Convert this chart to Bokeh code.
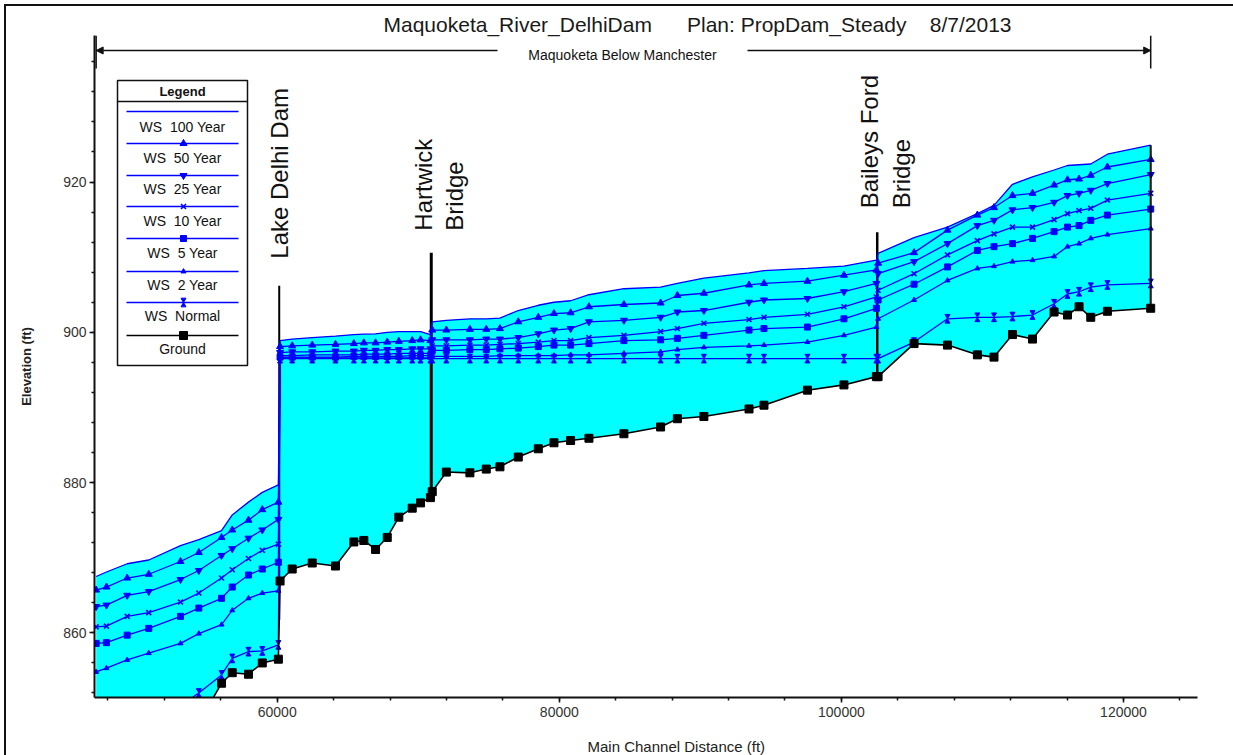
import math
import numpy as np
from bokeh.plotting import figure
from bokeh.models import (Range1d, SingleIntervalTicker, BasicTickFormatter, Title,
                          Arrow, NormalHead)
from bokeh.core.properties import value
from bokeh.embed import file_html
from bokeh.resources import INLINE

# ---------------- data ----------------
title_river = "Maquoketa_River_DelhiDam"
title_plan = "Plan: PropDam_Steady"
title_date = "8/7/2013"
reach_name = "Maquoketa Below Manchester"
x_label = "Main Channel Distance (ft)"
y_label = "Elevation (ft)"

station = [47160, 47890, 49360, 50890, 53140, 54440, 56050, 56810, 57960, 58940, 60080,
           60200, 61060, 62480, 64130, 65430, 66140, 66970, 67800, 68620, 69570, 70160, 70860,
           70990, 71990, 73660, 74820, 75790, 77090, 78510, 79620, 80800, 82100, 84580, 87180,
           88370, 90250, 93450, 94510, 97590, 100180, 102480,
           102600, 105150, 107520, 109640, 110820, 112130, 113550, 115080, 116030, 116850,
           117680, 118860, 121930]

ground = [843.5, 843.8, 844.5, 845.5, 846.5, 848.0, 853.3, 854.7, 854.5, 856.0, 856.5,
          866.9, 868.5, 869.3, 868.9, 872.1, 872.3, 871.1, 872.7, 875.4, 876.6, 877.3, 878.0,
          878.8, 881.4, 881.3, 881.8, 882.1, 883.4, 884.5, 885.3, 885.6, 885.9, 886.5, 887.4,
          888.5, 888.8, 889.8, 890.3, 892.3, 893.0, 894.1,
          894.1, 898.5, 898.3, 897.0, 896.7, 899.7, 899.1, 902.7, 902.3, 903.4, 902.0, 902.8, 903.2]

ws_100 = [867.5, 868.1, 869.2, 869.7, 871.6, 872.4, 873.6, 875.7, 877.4, 878.7, 879.7,
          898.9, 899.1, 899.3, 899.5, 899.7, 899.75, 899.8, 900.0, 900.1, 900.1, 900.1, 899.7,
          901.4, 901.6, 901.8, 901.8, 901.9, 902.9, 903.6, 904.0, 904.2, 905.0, 905.8, 906.0,
          906.5, 907.2, 907.9, 908.2, 908.5, 908.8, 909.6,
          910.5, 912.6, 914.0, 915.8, 916.9, 919.7, 920.7, 921.6, 922.2, 922.3, 922.4, 923.7, 924.9]

ws_50 = [865.7, 866.1, 867.3, 867.8, 869.5, 870.7, 872.7, 873.7, 875.0, 876.4, 877.4,
         898.1, 898.2, 898.3, 898.4, 898.5, 898.6, 898.6, 898.7, 898.8, 898.9, 899.0, 898.9,
         900.3, 900.3, 900.4, 900.4, 900.5, 901.4, 902.0, 902.5, 902.6, 903.4, 903.7, 903.9,
         904.9, 905.2, 906.3, 906.5, 906.8, 907.6, 908.3,
         909.2, 910.6, 913.6, 915.6, 916.6, 918.2, 918.5, 919.6, 920.3, 920.4, 920.9, 922.0, 923.0]

ws_25 = [863.5, 863.7, 865.0, 865.5, 867.1, 868.3, 870.3, 871.2, 872.6, 873.7, 875.1,
         897.3, 897.4, 897.4, 897.5, 897.5, 897.6, 897.6, 897.7, 897.7, 897.8, 897.8, 897.8,
         899.0, 899.0, 899.0, 899.1, 899.1, 899.3, 899.8, 900.3, 900.5, 901.4, 901.6, 902.0,
         902.7, 902.9, 904.0, 904.3, 904.5, 905.4, 906.5,
         907.8, 909.4, 911.8, 914.2, 914.9, 916.3, 916.6, 917.3, 918.2, 918.5, 918.9, 919.8, 921.0]

ws_10 = [860.8, 860.9, 862.2, 862.7, 864.1, 865.3, 867.3, 868.4, 869.9, 871.0, 871.8,
         896.9, 896.9, 897.0, 897.0, 897.0, 897.1, 897.1, 897.1, 897.2, 897.2, 897.2, 897.2,
         898.2, 898.2, 898.3, 898.3, 898.4, 898.5, 898.7, 898.9, 898.9, 899.3, 899.6, 900.1,
         900.5, 901.2, 901.7, 902.0, 902.4, 903.4, 904.7,
         905.6, 907.8, 910.3, 912.2, 913.1, 914.0, 914.0, 915.0, 915.8, 916.2, 916.5, 917.6, 918.5]

ws_5 = [858.6, 858.7, 859.7, 860.6, 862.2, 863.3, 864.6, 866.1, 867.7, 868.5, 869.4,
        896.7, 896.7, 896.7, 896.7, 896.8, 896.8, 896.8, 896.8, 896.8, 896.9, 896.9, 896.9,
        897.6, 897.6, 897.7, 897.7, 897.8, 897.9, 898.1, 898.3, 898.3, 898.5, 898.9, 899.0,
        899.2, 899.6, 900.3, 900.5, 900.7, 901.8, 903.2,
        904.3, 906.4, 908.7, 910.9, 911.4, 911.8, 912.5, 913.4, 914.0, 914.2, 914.9, 915.6, 916.4]

ws_2 = [854.8, 855.3, 856.4, 857.3, 858.6, 859.9, 861.1, 863.0, 864.6, 865.3, 865.6,
        896.6, 896.6, 896.6, 896.6, 896.6, 896.6, 896.6, 896.6, 896.6, 896.6, 896.6, 896.6,
        896.8, 896.8, 896.8, 896.8, 896.9, 896.9, 896.9, 896.9, 897.0, 897.0, 897.2, 897.4,
        897.7, 898.0, 898.2, 898.3, 898.7, 899.6, 900.7,
        901.8, 904.3, 906.9, 908.5, 908.8, 909.4, 909.6, 910.1, 911.4, 911.8, 912.5, 913.0, 913.8]

ws_normal = [848.6, 848.7, 849.0, 849.5, 850.3, 852.0, 854.4, 856.6, 857.5, 857.6, 858.4,
             896.5, 896.5, 896.5, 896.5, 896.5, 896.5, 896.5, 896.5, 896.5, 896.5, 896.5, 896.5,
             896.5, 896.5, 896.5, 896.5, 896.5, 896.5, 896.5, 896.5, 896.5, 896.5, 896.5, 896.5,
             896.5, 896.5, 896.5, 896.5, 896.5, 896.5, 896.5,
             896.5, 898.7, 901.8, 902.0, 902.0, 902.1, 902.3, 903.8, 905.1, 905.4, 906.0, 906.3, 906.5]

legend_labels = ["WS  100 Year", "WS  50 Year", "WS  25 Year", "WS  10 Year",
                 "WS  5 Year", "WS  2 Year", "WS  Normal", "Ground"]

structure_lines = [["Lake Delhi Dam"], ["Hartwick", "Bridge"], ["Baileys Ford", "Bridge"]]
structure_station = [60140, 70920, 102540]
structure_top = [906.2, 910.6, 913.3]

# ---------------- layout / styles ----------------
W, H = 1233, 755
FL, FR, FT, FB = 94, 1197, 35, 697
X0, X1 = 47043, 125248
Y0, Y1 = 851.4, 939.5
FPX = (Y1 - Y0) / (FB - FT)      # ft per screen px (vertical)

def dx(px):
    return X0 + (px - FL) * (X1 - X0) / (FR - FL)

def dy(py):
    return Y1 - (py - FT) * FPX

FONT_NAME = "Liberation Sans"
FONT = value(FONT_NAME)
BLUE = "#0000FF"
CYAN = "#00FFFF"
NB = "\u00a0"

p = figure(width=W, height=H, x_range=Range1d(X0, X1), y_range=Range1d(Y0, Y1),
           output_backend="svg", toolbar_location=None,
           min_border_left=FL, min_border_right=W - FR,
           min_border_top=FT, min_border_bottom=H - FB)
p.outline_line_color = None
p.grid.visible = False
p.background_fill_color = "white"
p.border_fill_color = None
# thin frame along the top and left edges of the picture
p.styles = {"background-color": "white",
            "box-shadow": "inset 4px 4px 0 0 white, inset 6px 6px 0 0 #111111"}

p.xaxis.ticker = SingleIntervalTicker(interval=20000, num_minor_ticks=5)
p.yaxis.ticker = SingleIntervalTicker(interval=20, num_minor_ticks=5)
p.xaxis.formatter = BasicTickFormatter(use_scientific=False)
p.yaxis.formatter = BasicTickFormatter(use_scientific=False)
for ax in (p.xaxis, p.yaxis):
    ax.axis_line_width = 2
    ax.axis_line_color = "#111111"
    ax.major_tick_out = 5
    ax.major_tick_in = 0
    ax.minor_tick_out = 3
    ax.minor_tick_in = 0
    ax.major_tick_line_width = 1.5
    ax.minor_tick_line_width = 1.5
    ax.major_tick_line_color = "#111111"
    ax.minor_tick_line_color = "#111111"
    ax.major_label_text_font = FONT_NAME
    ax.major_label_text_font_size = "14px"
    ax.major_label_text_color = "#333333"
p.xaxis.major_label_standoff = 4
p.yaxis.major_label_standoff = 3

# y axis label
p.yaxis.axis_label = y_label
p.yaxis.axis_label_standoff = 26
p.yaxis.axis_label_text_font = FONT_NAME
p.yaxis.axis_label_text_font_size = "13px"
p.yaxis.axis_label_text_font_style = "bold"
p.yaxis.axis_label_text_color = "#222222"

# ---------------- titles (side panels) ----------------
p.add_layout(Title(text=title_river + NB * 6 + title_plan + NB * 4 + title_date,
                   align="left", offset=383 - FL, standoff=0,
                   text_font=FONT_NAME, text_font_size="21px", text_font_style="normal",
                   text_color="#1a1a1a"), "above")
# small empty spacer between the x axis and its label
p.add_layout(Title(text=NB, standoff=12, text_font_size="1px"), "below")
p.add_layout(Title(text=x_label, align="left", offset=587 - FL, standoff=2,
                   text_font=FONT_NAME, text_font_size="15px", text_font_style="normal",
                   text_color="#222222"), "below")

# ---------------- water fill ----------------
p.varea(x=station, y1=ground, y2=ws_100, fill_color=CYAN)

# ---------------- structures ----------------
st_bottom = [float(np.interp(s, station, ground)) for s in structure_station]
p.segment(x0=structure_station, y0=st_bottom, x1=structure_station, y1=structure_top,
          line_color="black", line_width=[2, 3, 2.5])

label_dx = [[0], [-8, 23], [-8, 24]]
label_gap = [27, 22, 24]
for s, top, lines, dxs, gap in zip(structure_station, structure_top, structure_lines,
                                   label_dx, label_gap):
    p.text(x=[s] * len(lines), y=[top] * len(lines), text=lines,
           x_offset=dxs, y_offset=-gap, angle=math.pi / 2,
           text_align="left", text_baseline="middle",
           text_font=FONT, text_font_size="24px", text_color="#111111")

# ---------------- markers ----------------
def marks(xs, ys, kind):
    if kind == "tri":
        p.scatter(xs, ys, marker="triangle", size=7, fill_color=BLUE, line_color=BLUE)
    elif kind == "itri":
        p.scatter(xs, ys, marker="inverted_triangle", size=7, fill_color=BLUE, line_color=BLUE)
    elif kind == "x":
        p.scatter(xs, ys, marker="x", size=7, line_color=BLUE, line_width=1.6)
    elif kind == "sq":
        p.scatter(xs, ys, marker="square", size=6, fill_color=BLUE, line_color=BLUE)
    elif kind == "stri":
        p.scatter(xs, ys, marker="triangle", size=5, fill_color=BLUE, line_color=BLUE)
    elif kind == "bow":
        off = 2.9 * FPX
        p.scatter(xs, [y + off for y in ys], marker="inverted_triangle", size=5,
                  fill_color=BLUE, line_color=BLUE)
        p.scatter(xs, [y - off for y in ys], marker="triangle", size=5,
                  fill_color=BLUE, line_color=BLUE)
    elif kind == "gsq":
        p.scatter(xs, ys, marker="square", size=8, fill_color="black", line_color="black")

series = [(ws_100, None), (ws_50, "tri"), (ws_25, "itri"), (ws_10, "x"),
          (ws_5, "sq"), (ws_2, "stri"), (ws_normal, "bow")]
for ys, kind in series:
    p.line(station, ys, line_color=BLUE, line_width=1.3)
    if kind:
        marks(station, ys, kind)

p.line(station, ground, line_color="black", line_width=1.6)
marks(station, ground, "gsq")
p.segment(x0=[station[-1]], y0=[ground[-1]], x1=[station[-1]], y1=[ws_100[-1]],
          line_color="black", line_width=2)

# ---------------- reach bracket ----------------
yb = dy(50)
p.segment(x0=[station[0], station[-1]], y0=[dy(35)] * 2, x1=[station[0], station[-1]],
          y1=[dy(68)] * 2, line_color="#111111", line_width=1.5)
p.add_layout(Arrow(end=NormalHead(size=7, fill_color="#111111", line_color="#111111"),
                   x_start=dx(497), y_start=yb, x_end=station[0], y_end=yb,
                   line_color="#111111", line_width=1.5))
p.add_layout(Arrow(end=NormalHead(size=7, fill_color="#111111", line_color="#111111"),
                   x_start=dx(747), y_start=yb, x_end=station[-1], y_end=yb,
                   line_color="#111111", line_width=1.5))
p.text(x=[dx(622)], y=[dy(54)], text=[reach_name], text_align="center",
       text_baseline="middle", text_font=FONT, text_font_size="14px", text_color="#111111")

# ---------------- legend box ----------------
p.quad(left=[dx(117)], right=[dx(247)], top=[dy(80)], bottom=[dy(365)],
       fill_color="white", line_color="#111111", line_width=1.5)
p.segment(x0=[dx(117)], y0=[dy(101)], x1=[dx(247)], y1=[dy(101)],
          line_color="#111111", line_width=1.5)
p.text(x=[dx(182)], y=[dy(90.5)], text=["Legend"], text_align="center",
       text_baseline="middle", text_font=FONT, text_font_size="13px",
       text_font_style="bold", text_color="#111111")
leg_line_py = [111, 143, 175, 206, 238, 271, 302, 335]
leg_text_py = [126, 157, 188, 220, 252, 284, 315, 348]
leg_kinds = [None, "tri", "itri", "x", "sq", "stri", "bow", "gsq"]
for lab, kind, lpy, tpy in zip(legend_labels, leg_kinds, leg_line_py, leg_text_py):
    col = "black" if kind == "gsq" else BLUE
    p.segment(x0=[dx(126)], y0=[dy(lpy)], x1=[dx(238)], y1=[dy(lpy)],
              line_color=col, line_width=1.6)
    if kind:
        marks([dx(183)], [dy(lpy)], kind)
    p.text(x=[dx(182)], y=[dy(tpy)], text=[lab.replace("  ", " " + NB)], text_align="center",
           text_baseline="middle", text_font=FONT, text_font_size="14px",
           text_color="#111111")

open("out.html", "w").write(file_html(p, INLINE))
